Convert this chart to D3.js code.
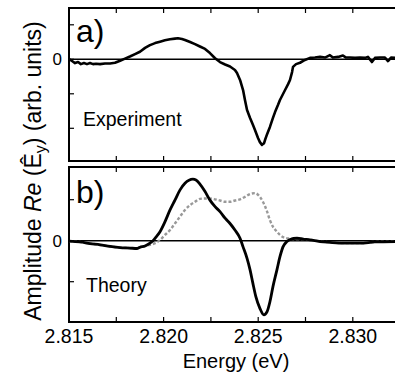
<!DOCTYPE html>
<html><head><meta charset="utf-8">
<script src="https://cdn.jsdelivr.net/npm/d3@7"></script>
<style>body{margin:0;background:#fff}svg{display:block;font-family:"Liberation Sans",Arial,sans-serif}</style>
</head><body><svg id="c" width="395" height="375"></svg>
<script>
// Energies (eV) and amplitudes
const expEnergy = [2.8150,2.81516,2.81532,2.81548,2.81563,2.81579,2.81595,2.81611,2.81627,2.81643,2.81664,2.81690,2.81717,2.81743,2.81770,2.81796,2.81822,2.81849,2.81875,2.81902,2.81928,2.81955,2.81981,2.82007,2.82034,2.82060,2.82076,2.82097,2.82113,2.82140,2.82166,2.82192,2.82219,2.82245,2.82272,2.82298,2.82325,2.82351,2.82377,2.82388,2.82404,2.82420,2.82430,2.82441,2.82457,2.82472,2.82483,2.82499,2.82509,2.82520,2.82531,2.82536,2.82547,2.82562,2.82578,2.82589,2.82605,2.82615,2.82642,2.82658,2.82668,2.82679,2.82684,2.82700,2.82721,2.82747,2.82774,2.82800,2.82827,2.82853,2.82879,2.82895,2.82922,2.82948,2.82964,2.82985,2.83012,2.83038,2.83064,2.83080,2.83101,2.83117,2.83144,2.83170,2.83186,2.83202,2.83223];
const expAmp = [0.01,-0.05,-0.11,-0.08,-0.14,-0.11,-0.14,-0.11,-0.14,-0.13,-0.14,-0.12,-0.12,-0.10,-0.04,0.02,0.08,0.15,0.22,0.33,0.41,0.47,0.51,0.55,0.58,0.60,0.61,0.59,0.56,0.50,0.44,0.37,0.30,0.18,0.03,-0.08,-0.15,-0.21,-0.31,-0.40,-0.60,-0.89,-1.18,-1.47,-1.70,-1.90,-2.05,-2.28,-2.40,-2.48,-2.43,-2.34,-2.17,-1.96,-1.70,-1.53,-1.32,-1.18,-0.89,-0.72,-0.60,-0.37,-0.22,-0.14,-0.10,-0.02,0.04,0.05,0.07,0.05,0.12,0.05,0.07,0.11,0.05,0.05,0.04,0.05,0.04,0.07,-0.08,0.04,0.05,0.05,-0.05,0.05,0.04];

const thEnergy = [2.8150,2.81558,2.81611,2.81664,2.81717,2.81770,2.81822,2.81859,2.81875,2.81902,2.81928,2.81944,2.81960,2.81981,2.82007,2.82034,2.82060,2.82087,2.82113,2.82155,2.82171,2.82192,2.82219,2.82245,2.82272,2.82298,2.82325,2.82351,2.82377,2.82404,2.82420,2.82441,2.82457,2.82472,2.82488,2.82509,2.82530,2.82547,2.82562,2.82578,2.82599,2.82615,2.82631,2.82652,2.82668,2.82705,2.82737,2.82774,2.82827,2.82879,2.82959,2.83038,2.83117,2.83223];
const theoryRe = [-0.01,-0.03,-0.07,-0.10,-0.14,-0.17,-0.18,-0.19,-0.16,-0.13,-0.06,0.00,0.09,0.22,0.46,0.75,0.99,1.24,1.40,1.50,1.48,1.38,1.20,0.99,0.83,0.71,0.55,0.42,0.26,0.06,-0.15,-0.43,-0.71,-1.04,-1.37,-1.65,-1.81,-1.73,-1.49,-1.12,-0.71,-0.39,-0.15,-0.02,0.03,0.06,0.04,0.02,-0.02,-0.04,-0.06,-0.06,-0.03,-0.02];

const refEnergy = [2.8150,2.81558,2.81611,2.81664,2.81717,2.81770,2.81822,2.81859,2.81875,2.81928,2.81955,2.81981,2.82007,2.82034,2.82060,2.82087,2.82113,2.82140,2.82166,2.82192,2.82219,2.82245,2.82272,2.82298,2.82325,2.82351,2.82377,2.82404,2.82430,2.82457,2.82483,2.82509,2.82525,2.82547,2.82562,2.82578,2.82599,2.82615,2.82642,2.82668,2.82705,2.82737,2.82774,2.82827,2.82879,2.82959,2.83038,2.83117,2.83223];
const theoryGray = [-0.01,-0.03,-0.07,-0.10,-0.14,-0.17,-0.18,-0.19,-0.16,-0.10,-0.06,0.02,0.14,0.26,0.42,0.59,0.75,0.87,0.95,1.02,1.03,1.03,1.01,0.98,0.95,0.95,0.98,1.01,1.07,1.14,1.16,1.07,0.95,0.71,0.50,0.34,0.22,0.14,0.07,0.05,0.04,0.04,0.02,-0.02,-0.04,-0.06,-0.06,-0.03,-0.02];

const xTicks = [2.815,2.8175,2.820,2.8225,2.825,2.8275,2.830,2.8325];
const xTickLabels = ["2.815","","2.820","","2.825","","2.830",""];
const yTicksA = [1,0,-1,-2];
const yTicksB = [1,0,-1];

const svg = d3.select("#c");
const x = d3.scaleLinear().domain([2.815,2.8325]).range([69,400.1]);
const yA = d3.scaleLinear().domain([-2.948,1.487]).range([161,8]);
const yB = d3.scaleLinear().domain([-1.983,1.798]).range([322,167]);

svg.append("defs").append("clipPath").attr("id","clipA").append("rect").attr("x",69).attr("y",8).attr("width",340).attr("height",153);
svg.select("defs").append("clipPath").attr("id","clipB").append("rect").attr("x",69).attr("y",167).attr("width",340).attr("height",155);

function panel(y, ticksY){
  const [y0,y1] = y.range();
  const g = svg.append("g");
  g.append("line").attr("x1",69).attr("x2",400).attr("y1",y(0)).attr("y2",y(0)).attr("stroke","#000").attr("stroke-width",1.4);
  xTicks.forEach(t=>{
    g.append("line").attr("x1",x(t)).attr("x2",x(t)).attr("y1",y0).attr("y2",y0-5).attr("stroke","#000").attr("stroke-width",1.2);
    g.append("line").attr("x1",x(t)).attr("x2",x(t)).attr("y1",y1).attr("y2",y1+5).attr("stroke","#000").attr("stroke-width",1.2);
  });
  ticksY.forEach(t=>{
    g.append("line").attr("x1",69).attr("x2",74).attr("y1",y(t)).attr("y2",y(t)).attr("stroke","#000").attr("stroke-width",1.2);
  });
  g.append("text").attr("x",62).attr("y",y(0)+6).attr("text-anchor","end").attr("font-size",17).text("0");
  g.append("path").attr("d",`M400,${y1}H69V${y0}H400`).attr("fill","none").attr("stroke","#000").attr("stroke-width",2);
  return g;
}

const gA = panel(yA,yTicksA);
const gB = panel(yB,yTicksB);

const lineA = d3.line().x((d,i)=>x(expEnergy[i])).y(d=>yA(d));
gA.append("path").datum(expAmp).attr("d",lineA).attr("fill","none").attr("stroke","#000").attr("stroke-width",2.6).attr("stroke-linejoin","round").attr("clip-path","url(#clipA)");

const lineG = d3.line().x((d,i)=>x(refEnergy[i])).y(d=>yB(d)).curve(d3.curveMonotoneX);
gB.append("path").datum(theoryGray).attr("d",lineG).attr("fill","none").attr("stroke","#999").attr("stroke-width",2.4).attr("stroke-dasharray","3,2").attr("clip-path","url(#clipB)");
const lineB = d3.line().x((d,i)=>x(thEnergy[i])).y(d=>yB(d)).curve(d3.curveMonotoneX);
gB.append("path").datum(theoryRe).attr("d",lineB).attr("fill","none").attr("stroke","#000").attr("stroke-width",2.8).attr("clip-path","url(#clipB)");

svg.append("text").attr("x",76).attr("y",42).attr("font-size",32).text("a)");
svg.append("text").attr("x",76).attr("y",203).attr("font-size",32).text("b)");
svg.append("text").attr("x",83).attr("y",126).attr("font-size",19.5).text("Experiment");
svg.append("text").attr("x",86).attr("y",292).attr("font-size",19.5).text("Theory");

xTicks.forEach((t,i)=>{
  if(xTickLabels[i]) svg.append("text").attr("x",x(t)).attr("y",343).attr("text-anchor","middle").attr("font-size",19.5).text(xTickLabels[i]);
});
svg.append("text").attr("x",236).attr("y",368).attr("text-anchor","middle").attr("font-size",20).text("Energy (eV)");

const yl = svg.append("text").attr("transform","translate(41,171) rotate(-90)").attr("text-anchor","middle").attr("font-size",23);
yl.append("tspan").text("Amplitude ");
yl.append("tspan").attr("font-style","italic").text("Re");
yl.append("tspan").text(" (Ê");
yl.append("tspan").attr("font-size",16).attr("dy",5).text("y");
yl.append("tspan").attr("dy",-5).text(") (arb. units)");
</script></body></html>
